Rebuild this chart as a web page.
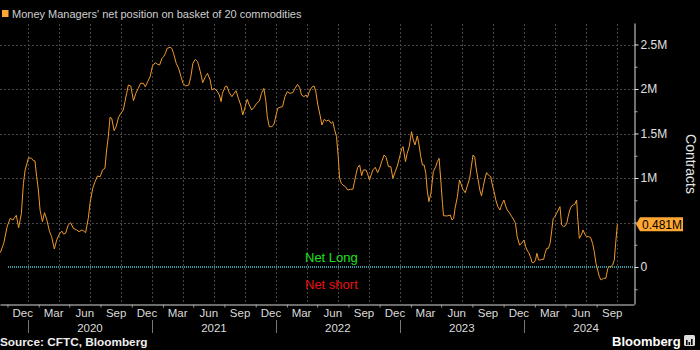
<!DOCTYPE html>
<html>
<head>
<meta charset="utf-8">
<script src="https://cdn.jsdelivr.net/npm/d3@7"></script>
<style>
  html, body { margin: 0; padding: 0; background: #000; }
  svg { display: block; }
</style>
</head>
<body>
<div id="chart"></div>
<script>
// weekly CFTC readings, millions of contracts
const dates = [
  '2019-10-11', '2019-10-21', '2019-10-31', '2019-11-09', '2019-11-17', '2019-11-27', '2019-12-04', '2019-12-12',
  '2019-12-18', '2019-12-23', '2020-01-02', '2020-01-11', '2020-01-16', '2020-01-21', '2020-01-26', '2020-01-31',
  '2020-02-05', '2020-02-12', '2020-02-18', '2020-02-25', '2020-03-04', '2020-03-10', '2020-03-18', '2020-03-25',
  '2020-04-02', '2020-04-09', '2020-04-14', '2020-04-20', '2020-04-28', '2020-05-05', '2020-05-13', '2020-05-23',
  '2020-05-30', '2020-06-07', '2020-06-11', '2020-06-18', '2020-06-26', '2020-07-01', '2020-07-09', '2020-07-16',
  '2020-07-23', '2020-07-31', '2020-08-07', '2020-08-14', '2020-08-19', '2020-08-24', '2020-08-29', '2020-09-03',
  '2020-09-10', '2020-09-16', '2020-09-23', '2020-09-30', '2020-10-07', '2020-10-12', '2020-10-17', '2020-10-22',
  '2020-10-29', '2020-11-06', '2020-11-13', '2020-11-20', '2020-11-27', '2020-12-05', '2020-12-11', '2020-12-18',
  '2020-12-25', '2021-01-01', '2021-01-09', '2021-01-16', '2021-01-22', '2021-01-29', '2021-02-03', '2021-02-08',
  '2021-02-13', '2021-02-22', '2021-02-27', '2021-03-04', '2021-03-12', '2021-03-19', '2021-03-26', '2021-04-01',
  '2021-04-08', '2021-04-18', '2021-04-24', '2021-04-30', '2021-05-07', '2021-05-14', '2021-05-22', '2021-05-29',
  '2021-06-06', '2021-06-12', '2021-06-20', '2021-06-25', '2021-07-02', '2021-07-10', '2021-07-17', '2021-07-22',
  '2021-07-26', '2021-08-03', '2021-08-08', '2021-08-15', '2021-08-23', '2021-08-28', '2021-09-04', '2021-09-11',
  '2021-09-18', '2021-09-24', '2021-10-01', '2021-10-07', '2021-10-13', '2021-10-20', '2021-10-27', '2021-11-04',
  '2021-11-12', '2021-11-18', '2021-11-25', '2021-12-01', '2021-12-05', '2021-12-11', '2021-12-18', '2021-12-25',
  '2021-12-31', '2022-01-05', '2022-01-11', '2022-01-19', '2022-01-26', '2022-02-02', '2022-02-10', '2022-02-18',
  '2022-02-25', '2022-03-04', '2022-03-10', '2022-03-16', '2022-03-23', '2022-03-29', '2022-04-02', '2022-04-08',
  '2022-04-15', '2022-04-22', '2022-04-27', '2022-05-03', '2022-05-10', '2022-05-15', '2022-05-22', '2022-05-28',
  '2022-06-04', '2022-06-11', '2022-06-16', '2022-06-21', '2022-06-27', '2022-07-02', '2022-07-06', '2022-07-11',
  '2022-07-16', '2022-07-23', '2022-07-30', '2022-08-07', '2022-08-14', '2022-08-18', '2022-08-24', '2022-08-28',
  '2022-09-03', '2022-09-09', '2022-09-14', '2022-09-22', '2022-09-26', '2022-10-02', '2022-10-07', '2022-10-12',
  '2022-10-19', '2022-10-26', '2022-11-01', '2022-11-07', '2022-11-14', '2022-11-20', '2022-11-27', '2022-12-04',
  '2022-12-10', '2022-12-17', '2022-12-24', '2022-12-30', '2023-01-05', '2023-01-09', '2023-01-16', '2023-01-21',
  '2023-01-27', '2023-02-03', '2023-02-08', '2023-02-13', '2023-02-20', '2023-02-25', '2023-03-02', '2023-03-07',
  '2023-03-12', '2023-03-17', '2023-03-21', '2023-03-26', '2023-04-01', '2023-04-08', '2023-04-15', '2023-04-20',
  '2023-04-25', '2023-04-30', '2023-05-05', '2023-05-08', '2023-05-18', '2023-05-28', '2023-06-02', '2023-06-07',
  '2023-06-11', '2023-06-18', '2023-06-24', '2023-06-28', '2023-07-04', '2023-07-11', '2023-07-18', '2023-07-24',
  '2023-07-29', '2023-08-03', '2023-08-08', '2023-08-13', '2023-08-18', '2023-08-23', '2023-08-28', '2023-09-02',
  '2023-09-07', '2023-09-12', '2023-09-17', '2023-09-24', '2023-09-29', '2023-10-04', '2023-10-09', '2023-10-15',
  '2023-10-21', '2023-10-26', '2023-11-02', '2023-11-07', '2023-11-12', '2023-11-19', '2023-11-25', '2023-12-01',
  '2023-12-06', '2023-12-11', '2023-12-18', '2023-12-24', '2023-12-31', '2024-01-05', '2024-01-09', '2024-01-14',
  '2024-01-19', '2024-01-24', '2024-01-29', '2024-02-03', '2024-02-07', '2024-02-12', '2024-02-17', '2024-02-22',
  '2024-02-27', '2024-03-02', '2024-03-07', '2024-03-12', '2024-03-17', '2024-03-22', '2024-03-26', '2024-03-31',
  '2024-04-05', '2024-04-10', '2024-04-15', '2024-04-20', '2024-04-25', '2024-04-30', '2024-05-05', '2024-05-09',
  '2024-05-14', '2024-05-19', '2024-05-24', '2024-05-29', '2024-06-03', '2024-06-06', '2024-06-11', '2024-06-17',
  '2024-06-22', '2024-06-27', '2024-07-02', '2024-07-09', '2024-07-14', '2024-07-20', '2024-07-25', '2024-07-30',
  '2024-08-04', '2024-08-09', '2024-08-14', '2024-08-21', '2024-08-28', '2024-09-03', '2024-09-07', '2024-09-12',
  '2024-09-17', '2024-09-22', '2024-09-26', '2024-10-01'
]

const netPosition = [
  0.161, 0.266, 0.453, 0.547, 0.528, 0.581, 0.442, 0.603,
  0.940, 1.090, 1.228, 1.221, 1.195, 1.191, 1.015, 0.865,
  0.640, 0.509, 0.610, 0.528, 0.397, 0.341, 0.202, 0.303,
  0.371, 0.404, 0.371, 0.378, 0.472, 0.498, 0.434, 0.416,
  0.397, 0.416, 0.408, 0.386, 0.547, 0.715, 0.884, 0.959,
  1.022, 1.015, 1.090, 1.109, 1.315, 1.464, 1.682, 1.670,
  1.532, 1.577, 1.682, 1.727, 1.764, 1.858, 1.951, 2.045,
  2.034, 1.869, 1.951, 2.007, 2.064, 2.064, 2.026, 2.082,
  2.139, 2.258, 2.296, 2.277, 2.270, 2.345, 2.363, 2.401,
  2.457, 2.468, 2.457, 2.401, 2.288, 2.232, 2.139, 2.064,
  2.034, 2.045, 2.139, 2.288, 2.333, 2.307, 2.195, 2.071,
  2.139, 2.176, 2.101, 1.989, 2.007, 1.978, 1.933, 1.858,
  1.951, 2.026, 2.034, 1.959, 1.914, 1.944, 1.981, 1.895,
  1.820, 1.708, 1.801, 1.884, 1.820, 1.764, 1.794, 1.839,
  1.865, 1.951, 2.007, 1.858, 1.689, 1.577, 1.577, 1.603,
  1.708, 1.783, 1.794, 1.801, 1.914, 1.970, 1.951, 1.959,
  2.007, 2.052, 2.019, 1.933, 1.914, 1.933, 1.906, 1.970,
  2.019, 2.034, 1.970, 1.820, 1.697, 1.596, 1.659, 1.640,
  1.652, 1.614, 1.633, 1.547, 1.464, 1.240, 0.996, 0.940,
  0.921, 0.903, 0.865, 0.873, 0.873, 0.940, 1.052, 1.116,
  1.146, 1.026, 1.090, 1.090, 1.052, 0.978, 1.034, 1.090,
  1.120, 1.060, 1.109, 1.184, 1.258, 1.232, 1.127, 1.127,
  0.996, 1.071, 1.146, 1.240, 1.333, 1.352, 1.184, 1.277,
  1.352, 1.521, 1.427, 1.371, 1.472, 1.371, 1.240, 1.146,
  1.146, 1.052, 0.865, 0.734, 0.828, 1.071, 1.127, 1.184,
  1.221, 0.978, 0.715, 0.577, 0.573, 0.584, 0.528, 0.547,
  0.659, 0.790, 0.978, 0.940, 0.873, 0.835, 0.921, 0.996,
  1.127, 1.258, 1.232, 1.090, 0.978, 0.865, 0.798, 0.903,
  0.996, 1.060, 1.034, 1.015, 0.921, 0.846, 0.753, 0.678,
  0.640, 0.697, 0.753, 0.685, 0.640, 0.603, 0.566, 0.528,
  0.491, 0.341, 0.247, 0.266, 0.303, 0.228, 0.191, 0.161,
  0.116, 0.049, 0.049, 0.079, 0.154, 0.079, 0.079, 0.086,
  0.086, 0.154, 0.210, 0.210, 0.266, 0.416, 0.547, 0.566,
  0.603, 0.640, 0.678, 0.472, 0.453, 0.461, 0.491, 0.566,
  0.640, 0.685, 0.697, 0.708, 0.753, 0.566, 0.322, 0.360,
  0.416, 0.371, 0.341, 0.341, 0.333, 0.266, 0.172, 0.041,
  -0.034, -0.109, -0.146, -0.127, -0.127, -0.015, 0.004, 0.004,
  0.022, 0.079, 0.266, 0.481
]

const yTickValues = [0, 0.5, 1, 1.5, 2, 2.5]
const yTickLabels = ['0', '', '1M', '1.5M', '2M', '2.5M']
const yMinorTicks = [-0.25, 0.25, 0.75, 1.25, 1.75, 2.25]
const years = [2020, 2021, 2022, 2023, 2024]

const title = "Money Managers' net position on basket of 20 commodities"
const yTitle = 'Contracts'
const longLabel = 'Net Long'
const shortLabel = 'Net short'
const source = 'Source: CFTC, Bloomberg'

const font = "'Liberation Sans', Arial, sans-serif"
const orange = '#ffa733'

const width = 700
const height = 350
const plot = { left: 0, right: 634, top: 23, bottom: 304 }

const svg = d3
  .select('#chart')
  .append('svg')
  .attr('width', width)
  .attr('height', height)
  .style('background', '#000')
  .attr('font-family', font)

const parseTime = d3.timeParse('%Y-%m-%d')
const datapoints = dates.map((d, i) => ({ date: parseTime(d), value: netPosition[i] }))

const xPositionScale = d3
  .scaleTime()
  .domain([new Date(2019, 9, 10), new Date(2024, 10, 19)])
  .range([plot.left, plot.right])

const yPositionScale = d3
  .scaleLinear()
  .domain([-0.4157, 2.7416])
  .range([plot.bottom, plot.top])

const crisp = v => Math.round(v) + 0.5

// quarterly vertical grid
const quarters = d3.timeMonth.range(new Date(2020, 0, 1), new Date(2024, 11, 1), 3)
svg
  .append('g')
  .selectAll('line')
  .data(quarters)
  .enter()
  .append('line')
  .attr('x1', d => crisp(xPositionScale(d)))
  .attr('x2', d => crisp(xPositionScale(d)))
  .attr('y1', plot.top + 1)
  .attr('y2', plot.bottom)
  .attr('stroke', '#474747')
  .attr('stroke-dasharray', '2,2')

// horizontal grid
svg
  .append('g')
  .selectAll('line')
  .data(yTickValues.filter(d => d !== 0))
  .enter()
  .append('line')
  .attr('x1', plot.left)
  .attr('x2', plot.right)
  .attr('y1', d => crisp(yPositionScale(d)))
  .attr('y2', d => crisp(yPositionScale(d)))
  .attr('stroke', '#474747')
  .attr('stroke-dasharray', '2,2')

// zero line
svg
  .append('line')
  .attr('x1', 8)
  .attr('x2', plot.right)
  .attr('y1', yPositionScale(0))
  .attr('y2', yPositionScale(0))
  .attr('stroke', '#45c8d2')
  .attr('stroke-width', 1.5)
  .attr('stroke-dasharray', '1,1')

const line = d3
  .line()
  .x(d => xPositionScale(d.date))
  .y(d => yPositionScale(d.value))

svg
  .append('path')
  .datum(datapoints)
  .attr('d', line)
  .attr('fill', 'none')
  .attr('stroke', '#ee9a2e')
  .attr('stroke-width', 1)
  .attr('stroke-linejoin', 'round')

// bottom axis: baseline + small ticks between quarter labels
const tickDates = d3.timeMonth.range(new Date(2019, 10, 1), new Date(2024, 9, 1), 3)
const xAxis = d3
  .axisBottom(xPositionScale)
  .tickValues(tickDates)
  .tickSize(3)
  .tickSizeOuter(0)
  .tickFormat('')
svg
  .append('g')
  .attr('class', 'axis x-axis')
  .attr('transform', 'translate(0,' + (plot.bottom + 0.5) + ')')
  .call(xAxis)
svg.selectAll('.x-axis path').attr('stroke', '#d8d8d8')
svg.selectAll('.x-axis line').attr('stroke', '#9a9a9a')

const monthLabels = d3.timeMonth.range(new Date(2019, 11, 1), new Date(2024, 9, 1), 3)
svg
  .append('g')
  .selectAll('text')
  .data(monthLabels)
  .enter()
  .append('text')
  .text(d3.timeFormat('%b'))
  .attr('x', d => xPositionScale(d3.timeDay.offset(d, 15)))
  .attr('y', 317)
  .attr('text-anchor', 'middle')
  .attr('font-size', 11.5)
  .attr('fill', '#dcdcdc')

svg
  .append('g')
  .selectAll('line')
  .data(years)
  .enter()
  .append('line')
  .attr('x1', d => crisp(xPositionScale(new Date(d, 0, 1))))
  .attr('x2', d => crisp(xPositionScale(new Date(d, 0, 1))))
  .attr('y1', 320)
  .attr('y2', 333)
  .attr('stroke', '#777')

svg
  .append('g')
  .selectAll('text')
  .data(years)
  .enter()
  .append('text')
  .text(d => d)
  .attr('x', d => xPositionScale(new Date(d, 6, 1)))
  .attr('y', 332)
  .attr('text-anchor', 'middle')
  .attr('font-size', 11.5)
  .attr('fill', '#dcdcdc')

// right axis
const yAxis = d3
  .axisRight(yPositionScale)
  .tickValues(yTickValues)
  .tickSize(4)
  .tickSizeOuter(0)
  .tickPadding(2)
  .tickFormat((d, i) => yTickLabels[i])
svg
  .append('g')
  .attr('class', 'axis y-axis')
  .attr('transform', 'translate(' + (plot.right + 0.5) + ',0)')
  .call(yAxis)
svg.selectAll('.y-axis path').attr('stroke', '#e0e0e0')
svg.selectAll('.y-axis line').attr('stroke', '#e0e0e0')
svg
  .selectAll('.y-axis text')
  .attr('fill', '#e0e0e0')
  .attr('font-size', 12)
  .attr('font-family', font)

const yMinorAxis = d3
  .axisRight(yPositionScale)
  .tickValues(yMinorTicks)
  .tickSize(3)
  .tickFormat('')
svg
  .append('g')
  .attr('class', 'axis y-minor')
  .attr('transform', 'translate(' + (plot.right + 0.5) + ',0)')
  .call(yMinorAxis)
svg.selectAll('.y-minor path').remove()
svg.selectAll('.y-minor line').attr('stroke', '#aaa')

svg
  .append('text')
  .text(yTitle)
  .attr('transform', 'translate(686,164) rotate(90)')
  .attr('text-anchor', 'middle')
  .attr('font-size', 14)
  .attr('fill', '#e6e6e6')

// last value tag
const last = datapoints[datapoints.length - 1]
const ly = yPositionScale(last.value)
svg
  .append('path')
  .attr('d', 'M636,' + ly + 'L640,' + (ly - 7) + 'H683V' + (ly + 7) + 'H640Z')
  .attr('fill', orange)
svg
  .append('text')
  .text(d3.format('.3f')(last.value) + 'M')
  .attr('x', 642)
  .attr('y', ly + 4.5)
  .attr('font-size', 12)
  .attr('fill', '#000')

// net long / short annotations
svg
  .append('text')
  .text(longLabel)
  .attr('x', 305)
  .attr('y', yPositionScale(0) - 5.5)
  .attr('font-size', 13)
  .attr('fill', '#1fe01f')
svg
  .append('text')
  .text(shortLabel)
  .attr('x', 305)
  .attr('y', yPositionScale(0) + 22)
  .attr('font-size', 13)
  .attr('fill', '#e81010')

// title
svg
  .append('rect')
  .attr('x', 2)
  .attr('y', 10)
  .attr('width', 6.5)
  .attr('height', 7)
  .attr('fill', orange)
svg
  .append('text')
  .text(title)
  .attr('x', 12)
  .attr('y', 17.5)
  .attr('font-size', 11)
  .attr('fill', '#cfcfcf')

// footer
svg
  .append('text')
  .text(source)
  .attr('x', 0)
  .attr('y', 346)
  .attr('font-size', 11.8)
  .attr('font-weight', 'bold')
  .attr('fill', '#eee')

svg
  .append('text')
  .text('Bloomberg')
  .attr('x', 612)
  .attr('y', 345.5)
  .attr('font-size', 13)
  .attr('font-weight', 'bold')
  .attr('fill', '#fff')
const logo = svg.append('g').attr('transform', 'translate(684,335)')
logo
  .append('rect')
  .attr('width', 11)
  .attr('height', 11)
  .attr('rx', 1.5)
  .attr('fill', '#ddd')
logo
  .selectAll('.bar')
  .data([[2, 5], [4.5, 3], [7, 6]])
  .enter()
  .append('rect')
  .attr('x', d => d[0])
  .attr('y', d => 10 - d[1])
  .attr('width', 1.6)
  .attr('height', d => d[1])
  .attr('fill', '#000')
</script>
</body>
</html>
